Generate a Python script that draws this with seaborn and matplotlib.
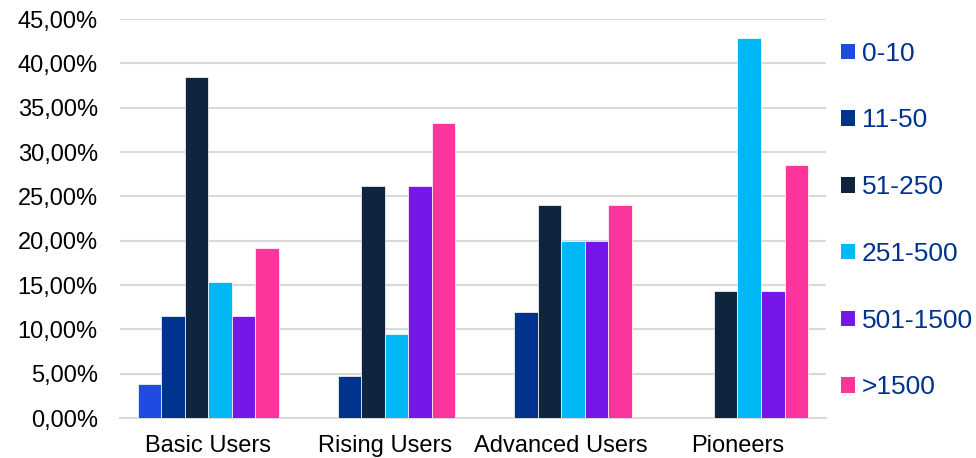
import matplotlib
matplotlib.use("Agg")
import matplotlib.pyplot as plt
import matplotlib.ticker as mticker
from matplotlib.patches import Patch
import seaborn as sns
import pandas as pd

segments = ["Basic Users", "Rising Users", "Advanced Users", "Pioneers"]
sizes = ["0-10", "11-50", "51-250", "251-500", "501-1500", ">1500"]
share_0_10 = [3.85, 0.0, 0.0, 0.0]
share_11_50 = [11.54, 4.76, 12.00, 0.0]
share_51_250 = [38.46, 26.19, 24.00, 14.29]
share_251_500 = [15.38, 9.52, 20.00, 42.86]
share_501_1500 = [11.54, 26.19, 20.00, 14.29]
share_over_1500 = [19.23, 33.33, 24.00, 28.57]
colors = ["#1F4BE0", "#00338D", "#0F253D", "#00B8F5", "#7517E8", "#FD349C"]

series = [share_0_10, share_11_50, share_51_250, share_251_500, share_501_1500, share_over_1500]
rows = []
for size, vals in zip(sizes, series):
    for seg, v in zip(segments, vals):
        rows.append({"segment": seg, "size": size, "share": v})
df = pd.DataFrame(rows)

sns.set_theme(style="white")
plt.rcParams["font.family"] = ["Liberation Sans", "DejaVu Sans"]

fig = plt.figure(figsize=(9.76, 4.58), dpi=100)
ax = fig.add_axes([0.123, 0.087, 0.723, 0.8715])

sns.barplot(data=df, x="segment", y="share", hue="size", order=segments,
            hue_order=sizes, palette=colors, saturation=1, width=0.8, gap=0,
            edgecolor="white", linewidth=0.5, legend=False, ax=ax, zorder=3)

ax.set_ylim(0, 45)
ax.set_xlim(-0.5, 3.5)
ax.yaxis.set_major_locator(mticker.MultipleLocator(5))
ax.yaxis.set_major_formatter(mticker.FuncFormatter(lambda v, p: f"{v:.2f}".replace(".", ",") + "%"))
ax.grid(axis="y", color="#D9D9D9", linewidth=1.5, zorder=0)
ax.set_axisbelow(True)
for s in ["left", "right", "top"]:
    ax.spines[s].set_visible(False)
ax.spines["bottom"].set_color("#D9D9D9")
ax.spines["bottom"].set_linewidth(1.5)
ax.set_xlabel("")
ax.set_ylabel("")
ax.tick_params(axis="y", labelsize=17, colors="black", length=0, pad=16)
ax.tick_params(axis="x", labelsize=17, colors="black", length=0, pad=12)

handles = [Patch(facecolor=c, edgecolor="none") for c in colors]
leg = fig.legend(handles, sizes, loc="upper left", bbox_to_anchor=(0.862, 0.909),
                 frameon=False, fontsize=19, labelspacing=1.62,
                 handlelength=0.53, handleheight=0.53, handletextpad=0.25,
                 borderpad=0, borderaxespad=0)
for t in leg.get_texts():
    t.set_color("#00338D")

fig.savefig("out.png", dpi=100)
